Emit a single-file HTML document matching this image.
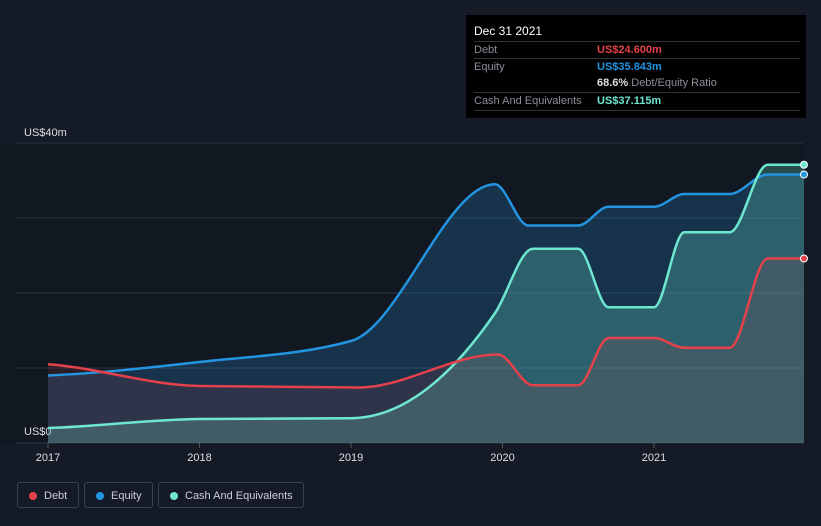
<!DOCTYPE html>
<html><head><meta charset="utf-8"><style>
body{margin:0;background:#151b26;font-family:"Liberation Sans",sans-serif;}
#wrap{position:relative;width:821px;height:526px;overflow:hidden;}
#tip{position:absolute;left:466px;top:15px;width:340px;height:103px;background:#000;font-size:11px;}
.row{position:absolute;left:8px;width:326px;border-top:1px solid #333;height:17px;line-height:17px;color:#8a8f99;}
.v{position:absolute;left:123px;font-weight:bold;}
.lg{position:absolute;top:482px;height:26px;border:1px solid #3a414d;border-radius:3px;color:#ccd;font-size:11px;line-height:26px;padding-left:26px;box-sizing:border-box;}
.dot{position:absolute;left:11px;top:9px;width:8px;height:8px;border-radius:50%;}
</style></head><body><div id="wrap">
<svg id="svg" width="821" height="526" style="position:absolute;left:0;top:0"></svg>
<div id="tip">
<div style="position:absolute;left:8px;top:9px;color:#fff;font-size:12px">Dec 31 2021</div>
<div class="row" style="top:26px">Debt<span class="v" style="color:#e5414a">US$24.600m</span></div>
<div class="row" style="top:43px">Equity<span class="v" style="color:#2394df">US$35.843m</span></div>
<div class="row" style="top:60px;border-top:none"><span class="v" style="color:#ddd">68.6% <span style="font-weight:normal;color:#8a8f99">Debt/Equity Ratio</span></span></div>
<div class="row" style="top:77px;border-bottom:1px solid #333">Cash And Equivalents<span class="v" style="color:#6ee6d0">US$37.115m</span></div>
</div>
<div class="lg" style="left:17px;width:62px"><span class="dot" style="background:#e5414a"></span>Debt</div>
<div class="lg" style="left:84px;width:69px"><span class="dot" style="background:#2394df"></span>Equity</div>
<div class="lg" style="left:158px;width:146px"><span class="dot" style="background:#6ee6d0"></span>Cash And Equivalents</div>
</div>
<script>
const yTicks=[0,10,20,30,40];
const xTicks=[2017,2018,2019,2020,2021];
const equityT=[2017,2018,2019,2019.95,2020.17,2020.5,2020.7,2021,2021.2,2021.5,2021.75,2021.99];
const equityV=[9.0,10.8,13.6,34.5,29,29,31.5,31.5,33.2,33.2,35.8,35.8];
const cashT=[2017,2018,2019,2019.95,2020.2,2020.5,2020.7,2021,2021.2,2021.5,2021.75,2021.99];
const cashV=[2.0,3.2,3.3,17.3,25.9,25.9,18.1,18.1,28.1,28.1,37.1,37.1];
const debtT=[2017,2018,2019.05,2019.97,2020.2,2020.5,2020.7,2021,2021.2,2021.5,2021.75,2021.99];
const debtV=[10.5,7.6,7.4,11.8,7.7,7.7,14,14,12.7,12.7,24.6,24.6];
const X=t=>48+(t-2017)*151.5, Y=v=>443-v*7.5;
const svg=document.getElementById('svg'),NS='http://www.w3.org/2000/svg';
function mk(tag,a,name){const e=document.createElementNS(NS,tag);for(const k in a)e.setAttribute(k,a[k]);


svg.appendChild(e);return e;}
mk('rect',{x:0,y:143,width:803,height:300,fill:'#121822'},'plot-area');
yTicks.forEach(v=>{mk('line',{x1:16,x2:803,y1:Y(v),y2:Y(v),stroke:'#2c333f','stroke-width':1},'grid-line');});
xTicks.forEach(t=>{mk('line',{x1:X(t),x2:X(t),y1:443,y2:448,stroke:'#555'},'x-tick');
const tx=mk('text',{x:X(t),y:461,fill:'#ddd','font-size':11,'text-anchor':'middle'},'x-tick-label');tx.textContent=t;});
const l1=mk('text',{x:24,y:136,fill:'#ddd','font-size':11},'y-axis-label-top');l1.textContent='US$40m';
const l0=mk('text',{x:24,y:435,fill:'#ddd','font-size':11},'y-axis-label-bottom');l0.textContent='US$0';
function path(T,V){const p=T.map((t,i)=>[X(t),Y(V[i])]);const n=p.length;const m=[];const d=[],h=[];
for(let i=0;i<n-1;i++){h.push(p[i+1][0]-p[i][0]);d.push((p[i+1][1]-p[i][1])/h[i]);}
for(let i=0;i<n;i++){
 if(i==0){m.push(0);continue;} if(i==n-1){m.push(0);continue;}
 const s0=d[i-1],s1=d[i],pp=(s0*h[i]+s1*h[i-1])/(h[i-1]+h[i]);
 m.push((Math.sign(s0)+Math.sign(s1))*Math.min(Math.abs(s0),Math.abs(s1),0.5*Math.abs(pp))||0);}
m[0]=d[0]*0.5;
let s='M'+p[0][0]+','+p[0][1];
for(let i=0;i<n-1;i++){const k=h[i]/3;s+=`C${p[i][0]+k},${p[i][1]+m[i]*k} ${p[i+1][0]-k},${p[i+1][1]-m[i+1]*k} ${p[i+1][0]},${p[i+1][1]}`;}
return s;}
const series=[['equity',equityT,equityV,'#2394df','rgba(35,148,223,0.22)'],['cash',cashT,cashV,'#6ee6d0','rgba(110,230,208,0.25)'],['debt',debtT,debtV,'#e5414a','rgba(229,65,74,0.12)']];
series.forEach(s=>{const d=path(s[1],s[2]);const T=s[1];
mk('path',{d:d+`L${X(T[T.length-1])},443L${X(T[0])},443Z`,fill:s[4]},s[0]+'-area');});
series.forEach(s=>{mk('path',{d:path(s[1],s[2]),fill:'none',stroke:s[3],'stroke-width':2.5},s[0]+'-line');
const T=s[1],V=s[2];mk('circle',{cx:X(T[T.length-1]),cy:Y(V[V.length-1]),r:3.5,fill:s[3],stroke:'#fff','stroke-width':1},s[0]+'-end-point');});
</script></body></html>
